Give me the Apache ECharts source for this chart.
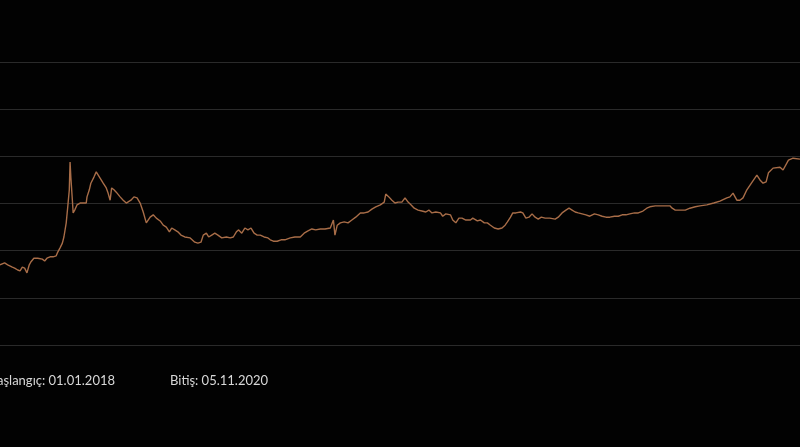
<!DOCTYPE html>
<html>
<head>
<meta charset="utf-8">
<script src="https://cdn.jsdelivr.net/npm/echarts@6/dist/echarts.min.js"></script>
<style>
html,body{margin:0;padding:0;background:#020202;}
#c{width:800px;height:447px;}
</style>
</head>
<body>
<div id="c"></div>
<script>
// Period
const startDate = '2018-01-01';
const endDate = '2020-11-05';
const startLabel = 'Başlangıç: 01.01.2018';
const endLabel = 'Bitiş: 05.11.2020';

// Days since start date
const dayOffsets = [0,6,10,16,19,23,26,29,32,35,38,40,44,49,55,58,61,65,69,73,75,78,81,83,86,88,90,91,92,94,95,97,100,104,108,112,113,116,118,122,125,126,130,134,138,140,143,145,148,151,153,156,160,164,166,170,174,178,182,186,190,195,199,203,208,212,216,220,223,227,231,235,240,247,253,257,261,264,268,271,275,279,283,288,294,299,303,307,310,314,318,322,326,330,334,338,343,348,351,355,360,365,370,377,383,390,395,400,405,410,416,422,429,433,435,438,442,447,452,457,462,468,473,478,483,488,494,499,501,505,509,513,517,522,526,530,534,538,543,548,553,557,561,566,572,575,579,585,588,592,596,600,605,611,614,620,624,629,633,637,642,647,652,656,659,663,666,670,676,679,683,687,691,695,699,703,708,714,721,725,730,735,739,743,747,751,756,761,766,772,777,782,787,792,798,803,808,813,818,824,829,831,835,840,844,851,857,864,870,873,877,883,890,896,903,909,918,927,935,944,948,952,957,961,965,970,977,983,987,991,995,998,1004,1013,1017,1024,1030,1039];

// Values
const values = [17.0,17.4,17.0,16.5,16.3,15.9,15.7,16.5,16.3,15.3,17.0,17.6,18.4,18.4,18.2,17.8,18.4,18.7,18.7,18.9,19.7,20.6,21.6,22.9,25.9,29.3,32.9,38.8,35.6,30.7,28.0,28.6,29.7,30.1,30.1,30.1,31.4,32.9,34.3,35.6,36.7,36.5,35.4,34.3,33.3,32.4,30.7,33.3,32.9,32.4,32.2,31.4,30.7,30.1,29.7,30.7,31.4,31.2,30.1,28.2,25.9,27.1,27.6,26.9,26.3,25.4,25.0,24.0,24.8,24.4,24.0,23.3,22.9,22.7,21.8,21.6,21.8,23.3,23.7,22.9,23.3,23.7,23.3,22.7,22.9,22.7,22.9,24.0,24.4,23.7,24.8,24.4,24.8,23.7,23.3,23.3,22.9,22.7,22.3,22.0,22.0,22.3,22.3,22.7,22.9,22.9,23.7,24.2,24.6,24.4,24.6,24.6,24.8,26.5,23.3,25.4,25.9,26.1,25.9,26.5,27.1,28.0,28.0,28.2,28.8,29.3,29.7,30.3,32.0,31.4,30.7,30.1,30.3,30.3,31.2,30.3,29.7,29.0,28.6,28.4,28.2,28.6,28.0,28.2,28.0,27.3,27.8,27.6,26.5,25.9,26.9,26.9,26.5,26.5,26.9,26.3,26.5,25.9,25.9,25.4,24.8,24.6,24.8,25.4,26.1,27.1,28.0,28.0,28.2,28.0,26.9,27.1,27.8,27.1,26.7,27.1,26.9,26.9,26.7,27.1,28.0,28.6,29.0,28.6,28.2,28.0,27.8,27.6,27.3,27.8,27.6,27.3,27.1,27.1,27.3,27.3,27.6,27.6,27.8,28.0,28.0,28.0,28.4,29.0,29.3,29.5,29.5,29.5,29.5,29.0,28.6,28.6,28.6,29.0,29.3,29.5,29.7,30.1,30.5,31.2,31.4,32.2,30.7,30.7,31.2,32.9,34.6,36.0,35.0,34.3,34.6,36.5,37.5,37.7,37.1,39.2,39.6,39.4];

// Value axis ticks
const yMin = 0, yMax = 60, yStep = 10;

const DAY = 86400000;
const t0 = new Date(startDate + 'T00:00:00Z').getTime();
const t1 = new Date(endDate + 'T00:00:00Z').getTime();
const seriesData = dayOffsets.map((d, i) => [t0 + d * DAY, values[i]]);

const chart = echarts.init(document.getElementById('c'), null, {renderer: 'canvas'});
chart.setOption({
  backgroundColor: '#020202',
  animation: false,
  grid: {left: 0, right: 0, top: 62, bottom: 102, containLabel: false},
  xAxis: {
    type: 'time', min: t0, max: t1,
    axisLine: {show: false}, axisTick: {show: false}, axisLabel: {show: false}, splitLine: {show: false}
  },
  yAxis: {
    type: 'value', min: yMin, max: yMax, interval: yStep,
    axisLine: {show: false}, axisTick: {show: false}, axisLabel: {show: false},
    splitLine: {show: true, lineStyle: {color: '#2a2a2a', width: 1}}
  },
  series: [{
    type: 'line', data: seriesData, showSymbol: false, symbol: 'none',
    lineStyle: {color: '#a86d48', width: 1.4}, smooth: false
  }],
  graphic: [
    {type: 'text', x: 115, y: 381,
     style: {text: startLabel, fill: '#d8d8d8', font: '13px Lato', textAlign: 'right', textVerticalAlign: 'middle'}},
    {type: 'text', x: 170, y: 381,
     style: {text: endLabel, fill: '#d8d8d8', font: '13px Lato', textAlign: 'left', textVerticalAlign: 'middle'}}
  ]
});
</script>
</body>
</html>
